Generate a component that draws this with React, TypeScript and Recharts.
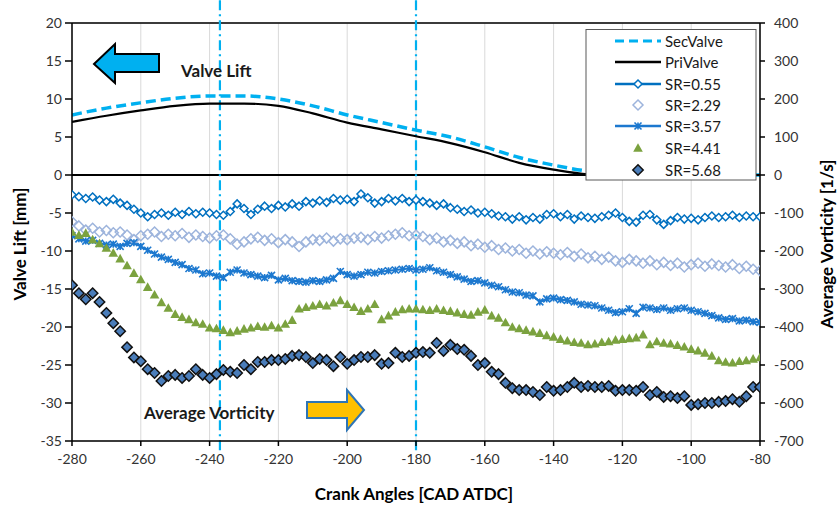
import React from "react";
import { LineChart, Line, XAxis, YAxis, CartesianGrid, ReferenceLine } from "recharts";

// crank angle grid of the PIV measurements [CAD ATDC]
const ANGLES = [
  -280, -278, -276, -274, -272, -270, -268, -266, -264, -262,
  -260, -258, -256, -254, -252, -250, -248, -246, -244, -242,
  -240, -238, -236, -234, -232, -230, -228, -226, -224, -222,
  -220, -218, -216, -214, -212, -210, -208, -206, -204, -202,
  -200, -198, -196, -194, -192, -190, -188, -186, -184, -182,
  -180, -178, -176, -174, -172, -170, -168, -166, -164, -162,
  -160, -158, -156, -154, -152, -150, -148, -146, -144, -142,
  -140, -138, -136, -134, -132, -130, -128, -126, -124, -122,
  -120, -118, -116, -114, -112, -110, -108, -106, -104, -102,
  -100, -98, -96, -94, -92, -90, -88, -86, -84, -82,
  -80,
];

// average vorticity [1/s]
const SR_055 = [
  -52, -57, -62, -58, -66, -70, -64, -74, -80, -90,
  -100, -110, -104, -100, -106, -98, -104, -96, -102, -98,
  -100, -104, -106, -96, -76, -88, -104, -90, -82, -88,
  -80, -84, -76, -82, -70, -74, -68, -72, -62, -66,
  -64, -70, -50, -60, -74, -70, -62, -68, -62, -70,
  -66, -70, -74, -80, -76, -86, -90, -96, -92, -100,
  -98, -102, -108, -110, -116, -110, -118, -112, -116, -104,
  -102, -110, -104, -116, -108, -112, -114, -110, -106, -100,
  -112, -122, -124, -106, -104, -118, -130, -120, -112, -116,
  -114, -118, -112, -108, -112, -110, -106, -112, -108, -110,
  -110,
];
const SR_229 = [
  -123, -134, -145, -140, -150, -146, -152, -150, -158, -170,
  -160, -156, -150, -162, -156, -160, -154, -164, -158, -162,
  -166, -160, -158, -168, -182, -176, -168, -164, -172, -168,
  -178, -170, -176, -188, -176, -170, -172, -166, -174, -168,
  -170, -166, -164, -170, -162, -166, -160, -156, -152, -160,
  -158, -162, -170, -166, -176, -172, -180, -176, -186, -182,
  -190, -186, -196, -192, -200, -196, -206, -200, -208, -202,
  -206, -210, -204, -214, -208, -218, -214, -222, -216, -226,
  -230, -222, -226, -232, -226, -236, -230, -238, -232, -242,
  -236, -232, -240, -234, -238, -242, -236, -246, -240, -248,
  -252,
];
const SR_357 = [
  -160, -168, -174, -172, -180, -184, -182, -188, -180, -178,
  -188, -198, -208, -216, -222, -230, -236, -246, -250, -260,
  -258, -266, -270, -256, -250, -258, -262, -266, -270, -264,
  -276, -272, -278, -280, -282, -278, -280, -276, -272, -254,
  -262, -266, -262, -256, -258, -254, -252, -250, -248, -246,
  -250, -248, -244, -252, -256, -262, -268, -274, -280, -278,
  -284, -290, -294, -302, -308, -310, -316, -318, -334, -326,
  -324, -328, -330, -334, -340, -342, -344, -350, -356, -362,
  -360, -352, -364, -348, -350, -354, -350, -356, -352, -350,
  -356, -360, -364, -370, -376, -380, -378, -384, -382, -386,
  -388,
];
const SR_441 = [
  -150, -158, -153, -170, -180, -192, -205, -220, -238, -258,
  -275, -295, -315, -335, -350, -366, -374, -380, -388, -392,
  -402, -404, -408, -414, -410, -405, -402, -398, -400, -396,
  -402, -392, -382, -352, -348, -344, -340, -344, -336, -330,
  -340, -348, -358, -352, -340, -380, -370, -360, -354, -352,
  -352, -354, -356, -352, -356, -358, -362, -366, -368, -360,
  -355, -370, -376, -388, -400, -404, -408, -412, -416, -422,
  -426, -432, -436, -440, -442, -446, -444, -440, -438, -434,
  -432, -430, -428, -420, -446, -438, -442, -444, -448, -452,
  -458, -462, -468, -476, -488, -492, -494, -490, -488, -484,
  -480,
];
const SR_568 = [
  -290, -311, -327, -311, -334, -363, -390, -411, -453, -480,
  -490, -511, -521, -542, -529, -526, -534, -529, -511, -526,
  -534, -524, -513, -518, -521, -500, -511, -492, -492, -487,
  -487, -484, -476, -474, -479, -495, -484, -487, -503, -479,
  -497, -487, -479, -479, -474, -497, -495, -468, -479, -476,
  -468, -466, -468, -442, -463, -447, -458, -460, -476, -500,
  -495, -518, -524, -547, -561, -566, -566, -571, -579, -558,
  -568, -566, -558, -547, -558, -555, -558, -558, -555, -568,
  -566, -566, -568, -558, -579, -571, -584, -582, -587, -582,
  -605, -603, -600, -600, -597, -595, -590, -597, -582, -558,
  -558,
];

// valve lift [mm]
const VALVE_ANGLES = [-280, -270, -260, -250, -240, -230, -220, -210, -200, -190, -180, -170, -160, -150, -140, -130, -120, -110, -100, -90, -80];
const SEC_VALVE = [7.9, 8.8, 9.5, 10.1, 10.4, 10.4, 10.0, 9.1, 7.9, 6.9, 5.9, 5.0, 3.7, 2.3, 1.3, 0.5, 0.1, 0, 0, 0, 0];
const PRI_VALVE = [7.0, 7.8, 8.5, 9.1, 9.4, 9.4, 9.1, 8.1, 6.9, 6.0, 5.1, 4.2, 3.0, 1.6, 0.7, 0.1, 0, 0, 0, 0, 0];

const MARK_ANGLES = [-237, -180];

const X_TICKS = [-280, -260, -240, -220, -200, -180, -160, -140, -120, -100, -80];
const LIFT_TICKS = [20, 15, 10, 5, 0, -5, -10, -15, -20, -25, -30, -35];
const VORT_TICKS = [400, 300, 200, 100, 0, -100, -200, -300, -400, -500, -600, -700];

const data = ANGLES.map((angle, i) => {
  const v = VALVE_ANGLES.indexOf(angle);
  return {
    angle,
    sec: v >= 0 ? SEC_VALVE[v] : null,
    pri: v >= 0 ? PRI_VALVE[v] : null,
    sr055: SR_055[i],
    sr229: SR_229[i],
    sr357: SR_357[i],
    sr441: SR_441[i],
    sr568: SR_568[i],
  };
});

const FONT = "Lato, 'Open Sans', sans-serif";
const BLUE = "#0070C0";
const LIGHT = "#9DB4DC";
const STAR_BLUE = "#1C78CF";
const GREEN = "#7BA23F";
const NAVY = "#4A7DBA";

const diamondPath = (cx: number, cy: number, r: number) =>
  `M${cx},${cy - r}L${cx + r},${cy}L${cx},${cy + r}L${cx - r},${cy}Z`;
const starPath = (cx: number, cy: number, r: number) =>
  `M${cx - r},${cy - r}L${cx + r},${cy + r}M${cx + r},${cy - r}L${cx - r},${cy + r}M${cx},${cy - r}L${cx},${cy + r}`;
const trianglePath = (cx: number, cy: number, r: number) =>
  `M${cx},${cy - r}L${cx + r},${cy + r * 0.8}L${cx - r},${cy + r * 0.8}Z`;

const makeDot = (kind: string) => (props: any) => {
  const { cx, cy, index } = props;
  if (cx == null || cy == null) return <g key={index} />;
  if (kind === "sr055")
    return <path key={index} d={diamondPath(cx, cy, 4)} fill="#fff" stroke={BLUE} strokeWidth={1.5} />;
  if (kind === "sr229")
    return <path key={index} d={diamondPath(cx, cy, 5)} fill="none" stroke={LIGHT} strokeWidth={1.5} />;
  if (kind === "sr357")
    return <path key={index} d={starPath(cx, cy, 3.5)} stroke={STAR_BLUE} strokeWidth={1.6} />;
  if (kind === "sr441")
    return <path key={index} d={trianglePath(cx, cy, 4.8)} fill={GREEN} />;
  return <path key={index} d={diamondPath(cx, cy, 5.2)} fill={NAVY} stroke="#111" strokeWidth={1.5} />;
};

const LEGEND = [
  { name: "SecValve", kind: "sec" },
  { name: "PriValve", kind: "pri" },
  { name: "SR=0.55", kind: "sr055" },
  { name: "SR=2.29", kind: "sr229" },
  { name: "SR=3.57", kind: "sr357" },
  { name: "SR=4.41", kind: "sr441" },
  { name: "SR=5.68", kind: "sr568" },
];

function LegendSample({ kind, y }: { kind: string; y: number }) {
  const x0 = 615, x1 = 661, cx = 638;
  if (kind === "sec") return <line x1={x0} x2={x1} y1={y} y2={y} stroke="#00B0F0" strokeWidth={3} strokeDasharray="9 5" />;
  if (kind === "pri") return <line x1={x0} x2={x1} y1={y} y2={y} stroke="#000" strokeWidth={2.5} />;
  const dot = makeDot(kind)({ cx, cy: y, index: 0 });
  const withLine = kind === "sr055" || kind === "sr357";
  return (
    <g>
      {withLine && <line x1={x0} x2={x1} y1={y} y2={y} stroke={kind === "sr055" ? BLUE : STAR_BLUE} strokeWidth={2.5} />}
      {dot}
    </g>
  );
}

function Overlay() {
  const rows = [41, 62, 84, 105, 126, 148, 170];
  return (
    <svg width={838} height={507} style={{ position: "absolute", left: 0, top: 0, pointerEvents: "none" }}>
      {/* legend */}
      <rect x={586} y={29.5} width={170} height={150.5} fill="#fff" stroke="#595959" strokeWidth={1} />
      {LEGEND.map((item, i) => (
        <g key={item.name}>
          <LegendSample kind={item.kind} y={rows[i]} />
          <text x={665} y={rows[i]} dominantBaseline="central" fontSize={15} fill="#1a1a1a" fontFamily={FONT}>
            {item.name}
          </text>
        </g>
      ))}

      {/* annotations */}
      <path d="M94,64 L115,44 L115,54 L159,54 L159,72 L115,72 L115,83 Z" fill="#00B0F0" stroke="#000" strokeWidth={2} strokeLinejoin="miter" />
      <text x={181} y={70} dominantBaseline="central" fontSize={17} fontWeight="bold" fill="#1a1a1a" fontFamily={FONT}>
        Valve Lift
      </text>
      <text x={144} y={412} dominantBaseline="central" fontSize={17} fontWeight="bold" fill="#1a1a1a" fontFamily={FONT}>
        Average Vorticity
      </text>
      <path d="M307,402 L347,402 L347,390 L364,410 L347,430 L347,418 L307,418 Z" fill="#FFC000" stroke="#2E75B6" strokeWidth={2} />

      {/* axis titles */}
      <text x={19} y={244} transform="rotate(-90 19 244)" textAnchor="middle" dominantBaseline="central" fontSize={17} fontWeight="bold" fill="#000" fontFamily={FONT}>
        Valve Lift [mm]
      </text>
      <text x={826} y={244} transform="rotate(-90 826 244)" textAnchor="middle" dominantBaseline="central" fontSize={17} fontWeight="bold" fill="#000" fontFamily={FONT}>
        Average Vorticity [1/s]
      </text>
      <text x={414} y={493} textAnchor="middle" dominantBaseline="central" fontSize={17} fontWeight="bold" fill="#000" fontFamily={FONT}>
        Crank Angles [CAD ATDC]
      </text>
    </svg>
  );
}

export default function App() {
  const tick = { fontSize: 14, fill: "#333", fontFamily: FONT };
  return (
    <div style={{ position: "fixed", left: 0, top: 0, width: 838, height: 507, background: "#fff", overflow: "hidden" }}>
      <LineChart width={838} height={507} data={data} margin={{ top: 23, right: 0, bottom: 0, left: 0 }}>
        <CartesianGrid stroke="#D9D9D9" strokeWidth={1} />
        <XAxis
          dataKey="angle"
          type="number"
          domain={[-280, -80]}
          ticks={X_TICKS}
          height={66}
          tick={tick}
          tickSize={5}
          tickMargin={8}
          stroke="#000"
          strokeWidth={1.5}
          allowDataOverflow
        />
        <YAxis
          yAxisId="left"
          domain={[-35, 20]}
          ticks={LIFT_TICKS}
          width={72}
          tick={tick}
          tickSize={7}
          tickMargin={3}
          stroke="#000"
          strokeWidth={1.5}
          interval={0}
          allowDataOverflow
        />
        <YAxis
          yAxisId="right"
          orientation="right"
          domain={[-700, 400]}
          ticks={VORT_TICKS}
          width={78}
          tick={tick}
          tickSize={5}
          tickMargin={9}
          stroke="#000"
          strokeWidth={1.5}
          interval={0}
          allowDataOverflow
        />
        <ReferenceLine yAxisId="left" y={20} stroke="#000" strokeWidth={1.5} />
        <ReferenceLine yAxisId="left" y={0} stroke="#000" strokeWidth={2.2} />
        {MARK_ANGLES.map((a) => (
          <ReferenceLine
            key={a}
            yAxisId="left"
            segment={[{ x: a, y: 23 }, { x: a, y: -36.6 }]}
            ifOverflow="visible"
            stroke="#00B0F0"
            strokeWidth={2.2}
            strokeDasharray="10 4 2 4"
          />
        ))}

        <Line yAxisId="left" dataKey="sec" type="monotone" connectNulls stroke="#00B0F0" strokeWidth={3.5} strokeDasharray="10 5" dot={false} activeDot={false} isAnimationActive={false} />
        <Line yAxisId="left" dataKey="pri" type="monotone" connectNulls stroke="#000" strokeWidth={2.2} dot={false} activeDot={false} isAnimationActive={false} />

        <Line yAxisId="right" dataKey="sr229" stroke="none" dot={makeDot("sr229")} activeDot={false} isAnimationActive={false} />
        <Line yAxisId="right" dataKey="sr055" stroke={BLUE} strokeWidth={2} dot={makeDot("sr055")} activeDot={false} isAnimationActive={false} />
        <Line yAxisId="right" dataKey="sr357" stroke={STAR_BLUE} strokeWidth={2.2} dot={makeDot("sr357")} activeDot={false} isAnimationActive={false} />
        <Line yAxisId="right" dataKey="sr441" stroke="none" dot={makeDot("sr441")} activeDot={false} isAnimationActive={false} />
        <Line yAxisId="right" dataKey="sr568" stroke="none" dot={makeDot("sr568")} activeDot={false} isAnimationActive={false} />
      </LineChart>
      <Overlay />
    </div>
  );
}
